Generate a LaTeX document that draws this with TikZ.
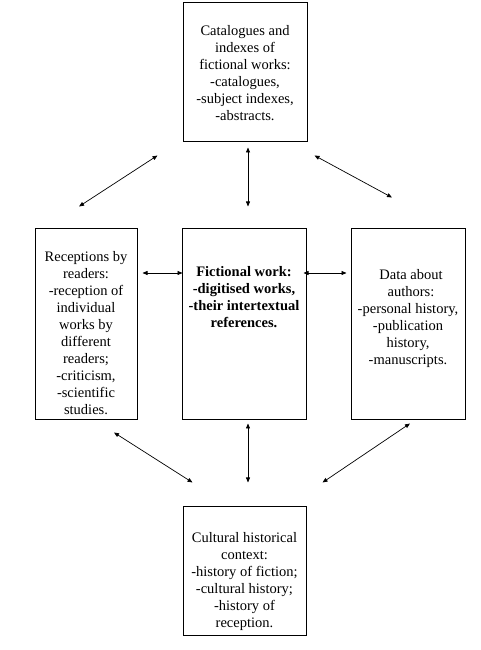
\documentclass[tikz,border=0pt]{standalone}
\usepackage{fontspec}
\setmainfont{Liberation Serif}
\usepackage{tikz}
\usetikzlibrary{arrows.meta,positioning,calc}

\begin{document}
\begin{tikzpicture}[x=1pt,y=1pt,font=\fontsize{14.5}{17}\selectfont,
  box/.style={draw,line width=1pt,inner sep=0pt},
  txt/.style={align=center,inner sep=0pt},
  arr/.style={{Triangle[length=5pt,width=4pt]}-{Triangle[length=5pt,width=4pt]},line width=0.7pt}]
\fill[white] (0,0) rectangle (480,650);
% boxes
\node[box,minimum width=124,minimum height=139] (catalog) at (245,577.5) {};
\node[box,minimum width=124,minimum height=191] (fiction) at (244,325.5) {};
\node[box,minimum width=102,minimum height=191] (readers) at (86,325.5) {};
\node[box,minimum width=114,minimum height=191] (authors) at (408,325.5) {};
\node[box,minimum width=123,minimum height=129] (context) at (244.5,78.5) {};
% texts
\node[txt,below=23 of catalog.north] (catalogtxt) {Catalogues and\\indexes of\\fictional works:\\-catalogues,\\-subject indexes,\\-abstracts.};
\node[txt,below=22.7 of readers.north] (readerstxt) {Receptions by\\readers:\\-reception of\\individual\\works by\\different\\readers;\\-criticism,\\-scientific\\studies.};
\node[txt,font=\fontsize{14.5}{17}\selectfont\bfseries,below=37.7 of fiction.north] (fictiontxt) {Fictional work:\\-digitised works,\\-their intertextual\\references.};
\node[txt,below=41 of authors.north] (authorstxt) {\hspace{6pt}Data about\\\hspace{6pt}authors:\\-personal history,\\-publication\\history,\\-manuscripts.};
\node[txt,below=25.7 of context.north] (contexttxt) {Cultural historical\\context:\\-history of fiction;\\-cultural history;\\-history of\\reception.};
% arrows
\draw[arr] ($(catalog.south west)+(-25,-13)$) -- ($(readers.north)+(-7,22)$);
\draw[arr] ($(catalog.south)+(3,-5)$) -- ($(fiction.north)+(4,22)$);
\draw[arr] ($(catalog.south east)+(7,-13)$) -- ($(authors.north)+(-16,31)$);
\draw[arr] ($(readers.east)+(5,51.5)$) -- ($(fiction.west)+(1,51.5)$);
\draw[arr] ($(fiction.east)+(-3,51.5)$) -- ($(authors.west)+(-4,51.5)$);
\draw[arr] ($(readers.south)+(28,-12)$) -- ($(context.north west)+(10,24)$);
\draw[arr] ($(fiction.south)+(4,-3)$) -- ($(context.north)+(3.5,24)$);
\draw[arr] ($(authors.south)+(2,-3)$) -- ($(context.north east)+(16,24)$);
\end{tikzpicture}
\end{document}
